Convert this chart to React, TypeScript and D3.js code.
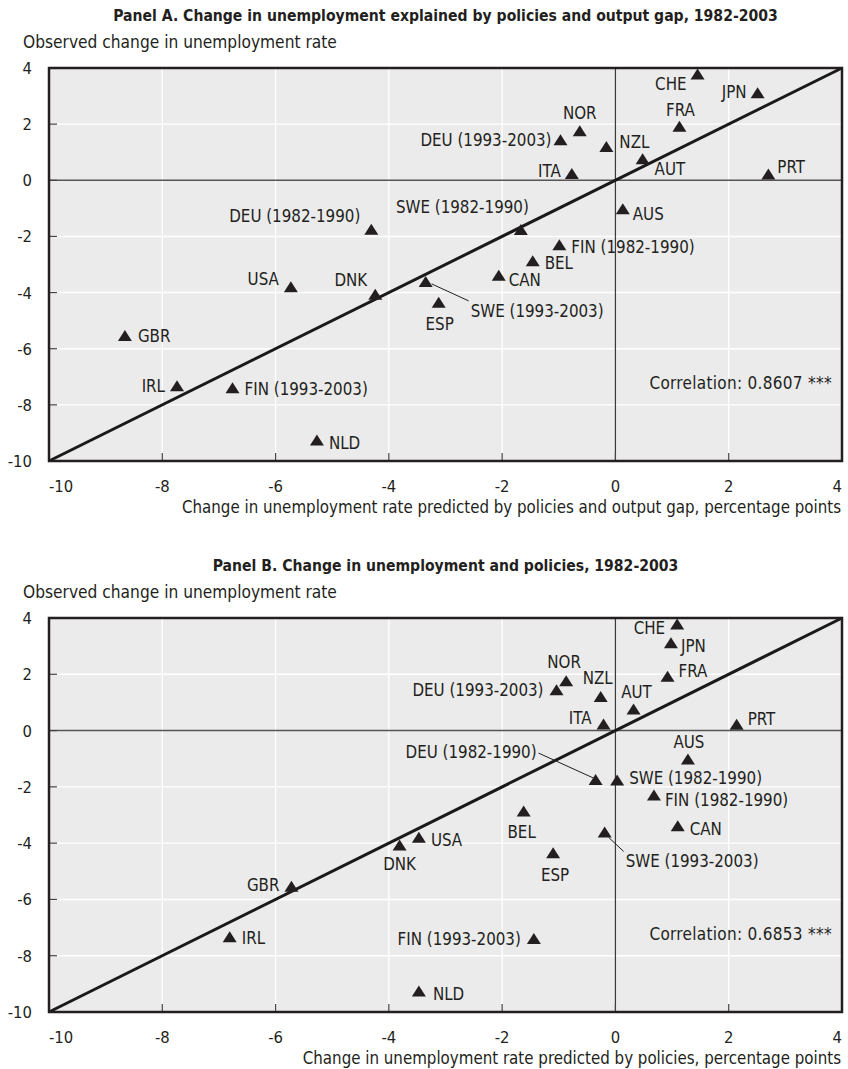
import React, { useEffect, useRef } from 'react';
import * as d3 from 'd3';

const countries = [
  'AUS', 'AUT', 'BEL', 'CAN', 'CHE', 'DEU (1982-1990)', 'DEU (1993-2003)', 'DNK', 'ESP',
  'FIN (1982-1990)', 'FIN (1993-2003)', 'FRA', 'GBR', 'IRL', 'ITA', 'JPN', 'NLD', 'NOR',
  'NZL', 'PRT', 'SWE (1982-1990)', 'SWE (1993-2003)', 'USA',
];

// observed change in unemployment rate (same in both panels)
const observed = [
  -1.03, 0.75, -2.88, -3.4, 3.77, -1.76, 1.43, -4.08, -4.36,
  -2.31, -7.41, 1.91, -5.55, -7.34, 0.22, 3.1, -9.27, 1.75,
  1.19, 0.21, -1.77, -3.62, -3.81,
];

// predicted by policies and output gap
const predictedA = [
  0.13, 0.48, -1.46, -2.06, 1.45, -4.31, -0.97, -4.24, -3.12,
  -0.99, -6.76, 1.13, -8.66, -7.74, -0.77, 2.51, -5.27, -0.63,
  -0.16, 2.7, -1.67, -3.35, -5.73,
];

// predicted by policies only
const predictedB = [
  1.28, 0.32, -1.62, 1.1, 1.09, -0.35, -1.04, -3.81, -1.1,
  0.68, -1.44, 0.92, -5.72, -6.81, -0.21, 0.98, -3.47, -0.87,
  -0.26, 2.14, 0.03, -0.19, -3.47,
];

const xTicks = [-10, -8, -6, -4, -2, 0, 2, 4];
const yTicks = [4, 2, 0, -2, -4, -6, -8, -10];

// label placement next to each marker: [dx, dy, anchor] in px
const labelPosA = {
  'AUS': [10, 5, 'start'], 'AUT': [12, 10, 'start'], 'BEL': [12, 2, 'start'], 'CAN': [10, 4, 'start'],
  'CHE': [-11, 9, 'end'], 'DEU (1982-1990)': [-11, -14, 'end'], 'DEU (1993-2003)': [-9, 0, 'end'],
  'DNK': [-8, -15, 'end'], 'ESP': [1, 21, 'middle'], 'FIN (1982-1990)': [12, 2, 'start'],
  'FIN (1993-2003)': [12, 1, 'start'], 'FRA': [1, -17, 'middle'], 'GBR': [13, 0, 'start'],
  'IRL': [-12, 0, 'end'], 'ITA': [-11, -3, 'end'], 'JPN': [-11, -1, 'end'], 'NLD': [12, 2, 'start'],
  'NOR': [0, -18, 'middle'], 'NZL': [13, -5, 'start'], 'PRT': [9, -7, 'start'],
  'SWE (1982-1990)': [8, -23, 'end'], 'SWE (1993-2003)': [45, 29, 'start'], 'USA': [-12, -8, 'end'],
};
const labelPosB = {
  'AUS': [1, -18, 'middle'], 'AUT': [3, -18, 'middle'], 'BEL': [-2, 20, 'middle'], 'CAN': [12, 3, 'start'],
  'CHE': [-12, 3, 'end'], 'DEU (1982-1990)': [-59, -28, 'end'], 'DEU (1993-2003)': [-13, 0, 'end'],
  'DNK': [0, 19, 'middle'], 'ESP': [2, 22, 'middle'], 'FIN (1982-1990)': [11, 4, 'start'],
  'FIN (1993-2003)': [-13, 0, 'end'], 'FRA': [11, -6, 'start'], 'GBR': [-12, -2, 'end'],
  'IRL': [12, 1, 'start'], 'ITA': [-12, -6, 'end'], 'JPN': [10, 3, 'start'], 'NLD': [14, 2, 'start'],
  'NOR': [-2, -19, 'middle'], 'NZL': [-3, -19, 'middle'], 'PRT': [11, -6, 'start'],
  'SWE (1982-1990)': [12, -2, 'start'], 'SWE (1993-2003)': [21, 29, 'start'], 'USA': [12, 2, 'start'],
};
const leadersA = { 'SWE (1993-2003)': [6, 2, 43, 19] };
const leadersB = { 'DEU (1982-1990)': [-57, -27, -2, -2], 'SWE (1993-2003)': [4, 5, 19, 19] };

const panels = [
  {
    title: 'Panel A. Change in unemployment explained by policies and output gap, 1982-2003',
    xTitle: 'Change in unemployment rate predicted by policies and output gap, percentage points',
    corr: 'Correlation: 0.8607 ***',
    predicted: predictedA, labels: labelPosA, leaders: leadersA, top: 68, bottom: 461,
  },
  {
    title: 'Panel B. Change in unemployment and policies, 1982-2003',
    xTitle: 'Change in unemployment rate predicted by policies, percentage points',
    corr: 'Correlation: 0.6853 ***',
    predicted: predictedB, labels: labelPosB, leaders: leadersB, top: 618, bottom: 1012,
  },
];

const FONT = "'DejaVu Sans Condensed', 'DejaVu Sans', sans-serif";
const INK = '#231f20';

const App = () => {
  const svgRef = useRef(null);

  useEffect(() => {
    const svg = d3.select(svgRef.current);
    svg.selectAll('*').remove();

    const left = 49, right = 842;

    panels.forEach((p) => {
      const x = d3.scaleLinear().domain([-10, 4]).range([left, right]);
      const y = d3.scaleLinear().domain([-10, 4]).range([p.bottom, p.top]);
      const g = svg.append('g')
        .attr('font-family', FONT)
        .attr('font-stretch', 'condensed')
        .attr('fill', INK);

      // titles
      g.append('text')
        .attr('x', (left + right) / 2)
        .attr('y', p.top - 53)
        .attr('dy', '0.36em')
        .attr('text-anchor', 'middle')
        .attr('font-weight', 'bold')
        .attr('font-size', 15.6)
        .text(p.title);

      g.append('text')
        .attr('x', 23)
        .attr('y', p.top - 26)
        .attr('dy', '0.36em')
        .attr('font-size', 17.2)
        .text('Observed change in unemployment rate');

      // plot background
      g.append('rect')
        .attr('x', left).attr('y', p.top)
        .attr('width', right - left).attr('height', p.bottom - p.top)
        .attr('fill', '#ebebeb');

      // grid
      g.selectAll('.vgrid')
        .data(xTicks.filter(t => t !== 0 && t !== -10 && t !== 4))
        .enter().append('line')
        .attr('x1', d => x(d)).attr('x2', d => x(d))
        .attr('y1', p.top).attr('y2', p.bottom)
        .attr('stroke', '#fff').attr('stroke-width', 1.4);

      g.selectAll('.hgrid')
        .data(yTicks.filter(t => t !== 0 && t !== -10 && t !== 4))
        .enter().append('line')
        .attr('x1', left).attr('x2', right)
        .attr('y1', d => y(d)).attr('y2', d => y(d))
        .attr('stroke', '#fff').attr('stroke-width', 1.4);

      // zero lines
      g.append('line')
        .attr('x1', x(0)).attr('x2', x(0))
        .attr('y1', p.top).attr('y2', p.bottom)
        .attr('stroke', '#3a3a3a').attr('stroke-width', 1.2);
      g.append('line')
        .attr('x1', left).attr('x2', right)
        .attr('y1', y(0)).attr('y2', y(0))
        .attr('stroke', '#555').attr('stroke-width', 1.4);

      // inner ticks
      g.selectAll('.ytick')
        .data(yTicks)
        .enter().append('line')
        .attr('x1', left).attr('x2', left + 8)
        .attr('y1', d => y(d)).attr('y2', d => y(d))
        .attr('stroke', '#444').attr('stroke-width', 1.2);
      g.selectAll('.xtick')
        .data(xTicks)
        .enter().append('line')
        .attr('x1', d => x(d)).attr('x2', d => x(d))
        .attr('y1', p.bottom).attr('y2', p.bottom - 8)
        .attr('stroke', '#444').attr('stroke-width', 1.2);

      // 45 degree line
      const line = d3.line().x(d => x(d)).y(d => y(d));
      g.append('path')
        .datum([-10, 4])
        .attr('d', line)
        .attr('fill', 'none')
        .attr('stroke', '#1a1a1a')
        .attr('stroke-width', 3);

      // frame
      g.append('rect')
        .attr('x', left).attr('y', p.top)
        .attr('width', right - left).attr('height', p.bottom - p.top)
        .attr('fill', 'none')
        .attr('stroke', INK).attr('stroke-width', 2.5);

      // tick labels
      g.selectAll('.ylab')
        .data(yTicks)
        .enter().append('text')
        .attr('x', 32)
        .attr('y', d => y(d))
        .attr('dy', '0.36em')
        .attr('text-anchor', 'end')
        .attr('font-size', 16.5)
        .text(d => d);

      g.selectAll('.xlab')
        .data(xTicks)
        .enter().append('text')
        .attr('x', d => x(d))
        .attr('y', p.bottom + 25)
        .attr('dy', '0.36em')
        .attr('text-anchor', (d, i) => i === 0 ? 'start' : (i === xTicks.length - 1 ? 'end' : 'middle'))
        .attr('font-size', 16.5)
        .text(d => d);

      g.append('text')
        .attr('x', 841)
        .attr('y', p.bottom + 46)
        .attr('dy', '0.36em')
        .attr('text-anchor', 'end')
        .attr('font-size', 16.75)
        .text(p.xTitle);

      // leader lines
      countries.forEach((c, i) => {
        const l = p.leaders[c];
        if (!l) return;
        const cx = x(p.predicted[i]), cy = y(observed[i]);
        g.append('line')
          .attr('x1', cx + l[0]).attr('y1', cy + l[1])
          .attr('x2', cx + l[2]).attr('y2', cy + l[3])
          .attr('stroke', INK).attr('stroke-width', 1);
      });

      // markers
      g.selectAll('.pt')
        .data(countries)
        .enter().append('path')
        .attr('d', 'M0,-6L7,5L-7,5Z')
        .attr('transform', (d, i) => `translate(${x(p.predicted[i])},${y(observed[i])})`)
        .attr('fill', INK);

      // labels
      g.selectAll('.lab')
        .data(countries)
        .enter().append('text')
        .attr('x', (d, i) => x(p.predicted[i]) + p.labels[d][0])
        .attr('y', (d, i) => y(observed[i]) + p.labels[d][1])
        .attr('dy', '0.36em')
        .attr('text-anchor', d => p.labels[d][2])
        .attr('font-size', 16.8)
        .text(d => d);

      g.append('text')
        .attr('x', x(0.6))
        .attr('y', y(-7.22))
        .attr('dy', '0.36em')
        .attr('font-size', 17)
        .attr('letter-spacing', 0.3)
        .text(p.corr);
    });
  }, []);

  return (
    <svg ref={svgRef} width="848" height="1069"
      style={{ position: 'absolute', left: 0, top: 0, background: '#fff' }}></svg>
  );
};

export default App;
